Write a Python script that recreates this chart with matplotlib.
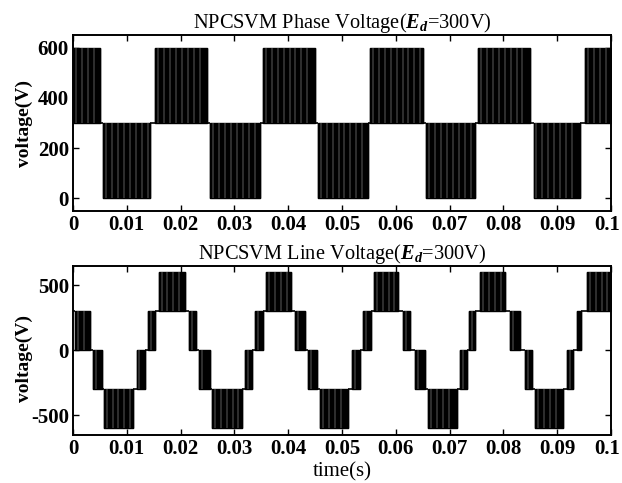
import matplotlib
matplotlib.use("Agg")
import matplotlib.pyplot as plt
import matplotlib.transforms as mtransforms
import numpy as np

# ----------------------------------------------------------------------
#  DATA: switching segments, t in s, levels in V
#  a segment with low == high is a flat level, otherwise the output
#  switches between the two levels for the whole segment
# ----------------------------------------------------------------------
phase_edges = [0.0, 0.0051, 0.0056, 0.0143, 0.0153, 0.0249, 0.0255, 0.0348,
               0.0353, 0.0450, 0.0455, 0.0548, 0.0552, 0.0651, 0.0657, 0.0747,
               0.0753, 0.0849, 0.0856, 0.0942, 0.0952, 0.1]
phase_low  = [300, 300, 0, 300, 300, 300, 0, 300, 300, 300, 0,
              300, 300, 300, 0, 300, 300, 300, 0, 300, 300]
phase_high = [600, 300, 300, 300, 600, 300, 300, 300, 600, 300, 300,
              300, 600, 300, 300, 300, 600, 300, 300, 300, 600]

line_edges = [0.0, 0.0004, 0.0031, 0.0037, 0.0053, 0.0057, 0.0111, 0.0118,
              0.0133, 0.0139, 0.0153, 0.0159, 0.0208, 0.0215, 0.0229, 0.0235,
              0.0254, 0.0258, 0.0314, 0.0319, 0.0333, 0.0339, 0.0353, 0.0359,
              0.0406, 0.0413, 0.0431, 0.0437, 0.0453, 0.0459, 0.0512, 0.0518,
              0.0533, 0.0539, 0.0553, 0.0559, 0.0605, 0.0614, 0.0626, 0.0636,
              0.0654, 0.0660, 0.0713, 0.0719, 0.0732, 0.0736, 0.0747, 0.0757,
              0.0803, 0.0812, 0.0831, 0.0840, 0.0853, 0.0859, 0.0911, 0.0918,
              0.0930, 0.0936, 0.0945, 0.0955, 0.1]
line_low  = [300, 0, 0, -300, -300, -600, -300, -300, 0, 0, 300, 300,
             300, 0, 0, -300, -300, -600, -300, -300, 0, 0, 300, 300,
             300, 0, 0, -300, -300, -600, -300, -300, 0, 0, 300, 300,
             300, 0, 0, -300, -300, -600, -300, -300, 0, 0, 300, 300,
             300, 0, 0, -300, -300, -600, -300, -300, 0, 0, 300, 300]
line_high = [300, 300, 0, 0, -300, -300, -300, 0, 0, 300, 300, 600,
             300, 300, 0, 0, -300, -300, -300, 0, 0, 300, 300, 600,
             300, 300, 0, 0, -300, -300, -300, 0, 0, 300, 300, 600,
             300, 300, 0, 0, -300, -300, -300, 0, 0, 300, 300, 600,
             300, 300, 0, 0, -300, -300, -300, 0, 0, 300, 300, 600]

x_ticks = [0, 0.01, 0.02, 0.03, 0.04, 0.05, 0.06, 0.07, 0.08, 0.09, 0.1]
x_tick_labels = ['0', '0.01', '0.02', '0.03', '0.04', '0.05', '0.06',
                 '0.07', '0.08', '0.09', '0.1']
phase_yticks = [0, 200, 400, 600]
line_yticks = [-500, 0, 500]

# ----------------------------------------------------------------------
#  STYLE
# ----------------------------------------------------------------------
plt.rcParams.update({'font.family': 'Liberation Serif',
                     'font.weight': 'bold',
                     'mathtext.fontset': 'custom',
                     'mathtext.rm': 'Liberation Serif',
                     'mathtext.it': 'Liberation Serif:italic:bold',
                     'axes.unicode_minus': False,
                     'xtick.direction': 'in',
                     'ytick.direction': 'in',
                     'xtick.top': True,
                     'ytick.right': True})

gap_step = 0.0011   # spacing of the thin light gaps inside a switching band


def draw_switching(ax, edges, low, high):
    for i in range(len(low)):
        t0, t1 = edges[i], edges[i + 1]
        if low[i] != high[i]:
            ax.fill_between([t0, t1], low[i], high[i], color='black',
                            linewidth=1.0, edgecolor='black')
            ts = np.arange(t0 + gap_step / 2, t1 - gap_step / 3, gap_step)
            ax.vlines(ts, low[i], high[i], color='white', linewidth=0.35,
                      alpha=0.75)
        else:
            ax.hlines(low[i], t0, t1, color='black', linewidth=1.2)
        if i + 1 < len(low):
            ys = [low[i], high[i], low[i + 1], high[i + 1]]
            ax.vlines(t1, min(ys), max(ys), color='black', linewidth=1.0)


def style_axes(ax, yticks, ylim, label_y):
    ax.set_xlim(0, 0.1)
    ax.set_ylim(*ylim)
    ax.set_xticks(x_ticks)
    ax.set_xticklabels(x_tick_labels)
    ax.set_yticks(yticks)
    ax.tick_params(labelsize=15, length=4, width=1.0, pad=3)
    for s in ax.spines.values():
        s.set_linewidth(1.4)
    ax.set_ylabel('voltage(V)', fontsize=14, fontweight='bold')
    ax.yaxis.set_label_coords(-0.075, label_y)
    # last tick label sits at the figure edge, nudge it inwards
    last = ax.get_xticklabels()[-1]
    last.set_transform(last.get_transform() +
                       mtransforms.ScaledTranslation(-4 / 100, 0, ax.figure.dpi_scale_trans))


fig = plt.figure(figsize=(6.22, 4.83), dpi=100)
ax1 = fig.add_axes([0.1174, 0.5631, 0.8649, 0.3644])
ax2 = fig.add_axes([0.1174, 0.0994, 0.8649, 0.3499])

draw_switching(ax1, phase_edges, phase_low, phase_high)
style_axes(ax1, phase_yticks, (-50, 650), 0.5)
ax1.set_title(r'NPCSVM Phase Voltage($E_d$=300V)', fontsize=14.7,
              fontweight='normal', pad=3)

draw_switching(ax2, line_edges, line_low, line_high)
style_axes(ax2, line_yticks, (-650, 650), 0.45)
ax2.set_title(r'NPCSVM Line Voltage($E_d$=300V)', fontsize=14.7,
              fontweight='normal', pad=3)
ax2.set_xlabel('time(s)', fontsize=15, labelpad=2)

fig.savefig('out.png', dpi=100)
